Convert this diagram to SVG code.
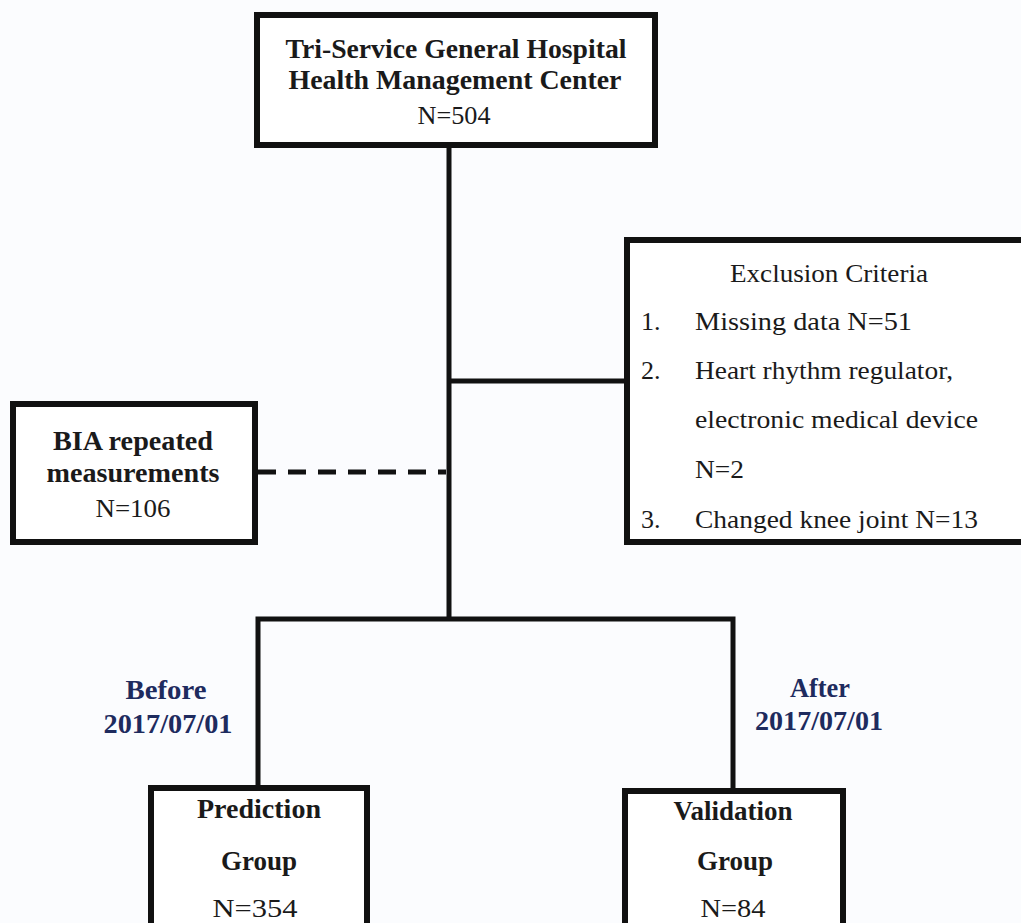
<svg xmlns="http://www.w3.org/2000/svg" width="1021" height="923" viewBox="0 0 1021 923">
<style>
.box{fill:#ffffff;stroke:#111111;stroke-width:6}
.ln{stroke:#111111;stroke-width:5;fill:none}
.dash{stroke:#111111;stroke-width:5;stroke-dasharray:18 12;fill:none}
text{font-family:"Liberation Serif","Times New Roman",serif;fill:#1a1a1a}
.b{font-weight:bold;font-size:27px}
.r{font-size:26px}
.c{text-anchor:middle}
.nv{fill:#1e2b5e;font-weight:bold;font-size:27px;text-anchor:middle}
</style>
<rect x="0" y="0" width="1021" height="923" fill="#fbfcfe"/>
<g id="connectors">
<line class="ln" x1="449" y1="145" x2="449" y2="619"/>
<line class="ln" x1="449" y1="381" x2="627" y2="381"/>
<line class="dash" x1="258" y1="472" x2="446" y2="472"/>
<polyline class="ln" points="258,790 258,619 733,619 733,792"/>
</g>
<g id="top">
<rect class="box" x="257" y="15" width="398" height="130"/>
<text class="b c" x="456" y="58" textLength="341" lengthAdjust="spacingAndGlyphs">Tri-Service General Hospital</text>
<text class="b c" x="455" y="89" textLength="333" lengthAdjust="spacingAndGlyphs">Health Management Center</text>
<text class="r c" x="454" y="124" textLength="73" lengthAdjust="spacingAndGlyphs">N=504</text>
</g>
<g id="exclusion">
<rect class="box" x="627" y="240" width="420" height="302"/>
<text class="r" x="730" y="282" textLength="198" lengthAdjust="spacingAndGlyphs">Exclusion Criteria</text>
<text class="r" x="641" y="330">1.</text>
<text class="r" x="695" y="330" textLength="217" lengthAdjust="spacingAndGlyphs">Missing data N=51</text>
<text class="r" x="641" y="379">2.</text>
<text class="r" x="695" y="379" textLength="258" lengthAdjust="spacingAndGlyphs">Heart rhythm regulator,</text>
<text class="r" x="695" y="428" textLength="283" lengthAdjust="spacingAndGlyphs">electronic medical device</text>
<text class="r" x="695" y="478" textLength="49" lengthAdjust="spacingAndGlyphs">N=2</text>
<text class="r" x="641" y="528">3.</text>
<text class="r" x="695" y="528" textLength="283" lengthAdjust="spacingAndGlyphs">Changed knee joint N=13</text>
</g>
<g id="bia">
<rect class="box" x="13" y="404" width="242" height="138"/>
<text class="b c" x="133" y="450" textLength="160" lengthAdjust="spacingAndGlyphs">BIA repeated</text>
<text class="b c" x="133" y="482" textLength="173" lengthAdjust="spacingAndGlyphs">measurements</text>
<text class="r c" x="133" y="517" textLength="75" lengthAdjust="spacingAndGlyphs">N=106</text>
</g>
<g id="labels">
<text class="nv" x="166" y="699" textLength="81" lengthAdjust="spacingAndGlyphs">Before</text>
<text class="nv" x="168" y="733" textLength="129" lengthAdjust="spacingAndGlyphs">2017/07/01</text>
<text class="nv" x="820" y="697" textLength="60" lengthAdjust="spacingAndGlyphs">After</text>
<text class="nv" x="819" y="730" textLength="128" lengthAdjust="spacingAndGlyphs">2017/07/01</text>
</g>
<g id="prediction">
<rect class="box" x="151" y="788" width="216" height="150"/>
<text class="b c" x="259" y="818" textLength="124" lengthAdjust="spacingAndGlyphs">Prediction</text>
<text class="b c" x="259" y="870" textLength="76" lengthAdjust="spacingAndGlyphs">Group</text>
<text class="r c" x="255" y="917" textLength="85" lengthAdjust="spacingAndGlyphs">N=354</text>
</g>
<g id="validation">
<rect class="box" x="625" y="791" width="218" height="150"/>
<text class="b c" x="733" y="820" textLength="119" lengthAdjust="spacingAndGlyphs">Validation</text>
<text class="b c" x="735" y="870" textLength="76" lengthAdjust="spacingAndGlyphs">Group</text>
<text class="r c" x="733" y="917" textLength="65" lengthAdjust="spacingAndGlyphs">N=84</text>
</g>
</svg>
